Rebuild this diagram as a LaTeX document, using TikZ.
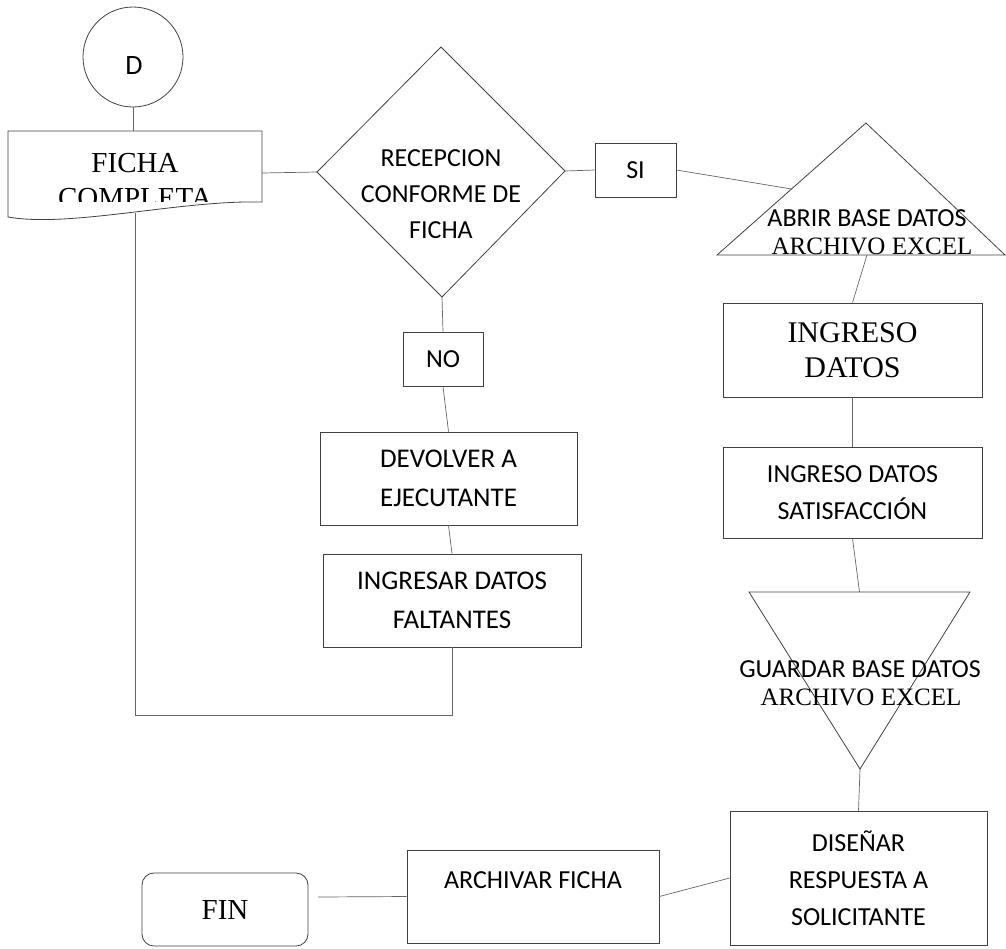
\documentclass[tikz,border=0pt]{standalone}
\usepackage{fontspec}
\usetikzlibrary{calc}
\setmainfont{Liberation Serif}
\newfontfamily\calfont{Carlito}
\begin{document}
\begin{tikzpicture}[x=1pt,y=-1pt,
  shp/.style={draw=black!75, line width=0.8pt},
  con/.style={draw=black!60, line width=0.7pt},
  box/.style={shp, rectangle, inner sep=0pt, align=center, font=\calfont\fontsize{26}{37}\selectfont},
  ctext/.style={font=\calfont\fontsize{26}{36}\selectfont, align=center, inner sep=0pt},
  ttext/.style={font=\fontsize{29}{35}\selectfont, align=center, inner sep=0pt},
  tsmall/.style={font=\fontsize{25}{28}\selectfont, align=center, inner sep=0pt}]
\useasboundingbox (0,0) rectangle (1006,948);

% start connector
\node[shp, circle, minimum size=100pt, inner sep=0pt] (d) at (133,57) {};
\node[font=\calfont\fontsize{28}{30}\selectfont, inner sep=0pt] (dtxt) at (134,66) {D};

% document shape
\coordinate (doctop) at (133,131);
\coordinate (docright) at (262,173);
\coordinate (docbot) at (135,213);
\draw[shp] (8,131) -- (262,131) -- (262,202) .. controls (180,200) and (70,228) .. (8,217) -- cycle;
\begin{scope}
  \clip (8,131) rectangle (262,201);
  \node[ttext] (ficha) at (135,181) {FICHA\\COMPLETA};
\end{scope}

% decision diamond
\coordinate (dl) at (317,172);
\coordinate (dt) at (441,47);
\coordinate (dr) at (565,171);
\coordinate (db) at (442,297);
\draw[shp] (dl) -- (dt) -- (dr) -- (db) -- cycle;
\node[ctext] (dtext) at (441,194) {RECEPCION\\CONFORME DE\\FICHA};

% SI / NO
\node[box, minimum width=81pt, minimum height=54pt] (si) at (635.5,170) {SI};
\node[box, minimum width=80pt, minimum height=54pt] (no) at (443,359) {NO};

% left branch
\node[box, minimum width=257pt, minimum height=93pt, font=\calfont\fontsize{27}{39}\selectfont] (dev) at (448.5,478.5) {DEVOLVER A\\EJECUTANTE};
\node[box, minimum width=258pt, minimum height=93pt, font=\calfont\fontsize{27}{39}\selectfont] (ing) at (452,600.5) {INGRESAR DATOS\\FALTANTES};

% triangle 1
\coordinate (t1a) at (866,123);
\coordinate (t1l) at (717,255);
\coordinate (t1r) at (1005,255);
\coordinate (t1b) at (867,255);
\coordinate (t1side) at ($(t1a)!0.5!(t1l)$);
\draw[shp] (t1a) -- (t1r) -- (t1l) -- cycle;
\node[ctext] (abrir) at (867,218) {ABRIR BASE DATOS};
\node[tsmall] (arch1) at (872,246) {ARCHIVO EXCEL};

% right column boxes
\node[box, minimum width=259pt, minimum height=94pt, font=\fontsize{30}{35}\selectfont] (ingreso) at (852.5,350) {INGRESO\\DATOS};
\node[box, minimum width=259pt, minimum height=91pt] (sat) at (852.5,492.5) {INGRESO DATOS\\SATISFACCIÓN};

% triangle 2
\coordinate (t2l) at (749,592);
\coordinate (t2r) at (970,592);
\coordinate (t2t) at (859.5,592);
\coordinate (t2a) at (860,769);
\draw[shp] (t2l) -- (t2r) -- (t2a) -- cycle;
\node[ctext] (guardar) at (860,669) {GUARDAR BASE DATOS};
\node[tsmall] (arch2) at (861,697) {ARCHIVO EXCEL};

% bottom row
\node[box, minimum width=257pt, minimum height=134pt] (dis) at (858.5,878) {DISEÑAR\\RESPUESTA A\\SOLICITANTE};
\node[box, minimum width=252pt, minimum height=93pt] (arch) at (533,896.5) {};
\node[ctext] (archtext) at (533,880) {ARCHIVAR FICHA};
\node[shp, rectangle, rounded corners=12pt, minimum width=166pt, minimum height=73pt, inner sep=0pt, font=\fontsize{29}{35}\selectfont] (fin) at (225,909.5) {FIN};
\coordinate (finend) at (318,897);

% connectors
\draw[con] (d.south) -- (doctop);
\draw[con] (docright) -- (dl);
\draw[con] (dr) -- (si.west);
\draw[con] (si.east) -- (t1side);
\draw[con] (db) -- (no.north);
\draw[con] (no.south) -- (dev.north);
\draw[con] (dev.south) -- (ing.north);
\draw[con] (ing.south) -- (452,715) -- (135,715) -- (docbot);
\draw[con] (t1b) -- (ingreso.north);
\draw[con] (ingreso.south) -- (sat.north);
\draw[con] (sat.south) -- (t2t);
\draw[con] (t2a) -- (dis.north);
\draw[con] (dis.west) -- (arch.east);
\draw[con] (arch.west) -- (finend);
\end{tikzpicture}
\end{document}
